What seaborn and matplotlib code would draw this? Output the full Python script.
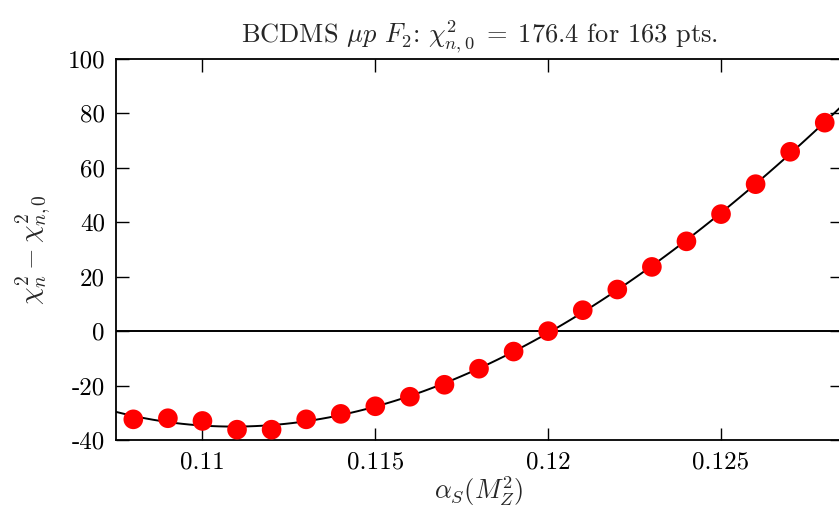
import numpy as np
import pandas as pd
import seaborn as sns
import matplotlib.pyplot as plt

# values
alpha_s = [0.108, 0.109, 0.110, 0.111, 0.112, 0.113, 0.114, 0.115, 0.116, 0.117, 0.118,
           0.119, 0.120, 0.121, 0.122, 0.123, 0.124, 0.125, 0.126, 0.127, 0.128]
delta_chi2 = [-32.4, -32.0, -33.0, -36.2, -36.2, -32.4, -30.4, -27.6, -24.1, -19.7, -13.8,
              -7.5, 0.0, 7.7, 15.3, 23.6, 33.0, 43.0, 54.0, 65.9, 76.6]
x_ticks = [0.11, 0.115, 0.12, 0.125]
x_tick_labels = ['0.11', '0.115', '0.12', '0.125']
y_ticks = [-40, -20, 0, 20, 40, 60, 80, 100]
y_tick_labels = ['-40', '-20', '0', '20', '40', '60', '80', '100']

df = pd.DataFrame({'alpha_s': alpha_s, 'delta_chi2': delta_chi2})

sns.set_style('ticks')
plt.rcParams['font.family'] = ['cmr10', 'DejaVu Serif']
plt.rcParams['mathtext.fontset'] = 'cm'
plt.rcParams['axes.formatter.use_mathtext'] = True

fig = plt.figure(figsize=(8.39, 5.12), dpi=100)
ax = fig.add_axes([0.1383, 0.1406, 0.8653, 0.7442])
ax.set_xlim(0.1075, 0.1285)
ax.set_ylim(-40, 100)

# fit curve over the full x range
sns.regplot(data=df, x='alpha_s', y='delta_chi2', order=3, ci=None, scatter=False,
            truncate=False, ax=ax, line_kws=dict(color='black', lw=1.4, zorder=2))
ax.axhline(0, color='black', lw=1.4, zorder=1)
sns.scatterplot(data=df, x='alpha_s', y='delta_chi2', ax=ax, color='#ff0000', s=200,
                edgecolor='none', zorder=3, clip_on=False)

ax.set_xticks(x_ticks)
ax.set_xticklabels(x_tick_labels)
ax.set_yticks(y_ticks)
ax.set_yticklabels(y_tick_labels)
ax.tick_params(direction='in', length=9, width=1.0, top=True, right=True,
               labelsize=18, pad=8, colors='black')
for sp in ax.spines.values():
    sp.set_linewidth(1.3)
    sp.set_color('black')

ax.set_xlabel(r'$\alpha_S(M_Z^2)$', fontsize=19, labelpad=1)
ax.set_ylabel(r'$\chi^2_n - \chi^2_{n,0}$', fontsize=20, labelpad=10)
ax.set_title(r'BCDMS $\mu p$ $F_2$: $\chi^2_{n,0}\;=\;176.4$ for 163 pts.', fontsize=19, pad=12)

fig.savefig('out.png', dpi=100)
